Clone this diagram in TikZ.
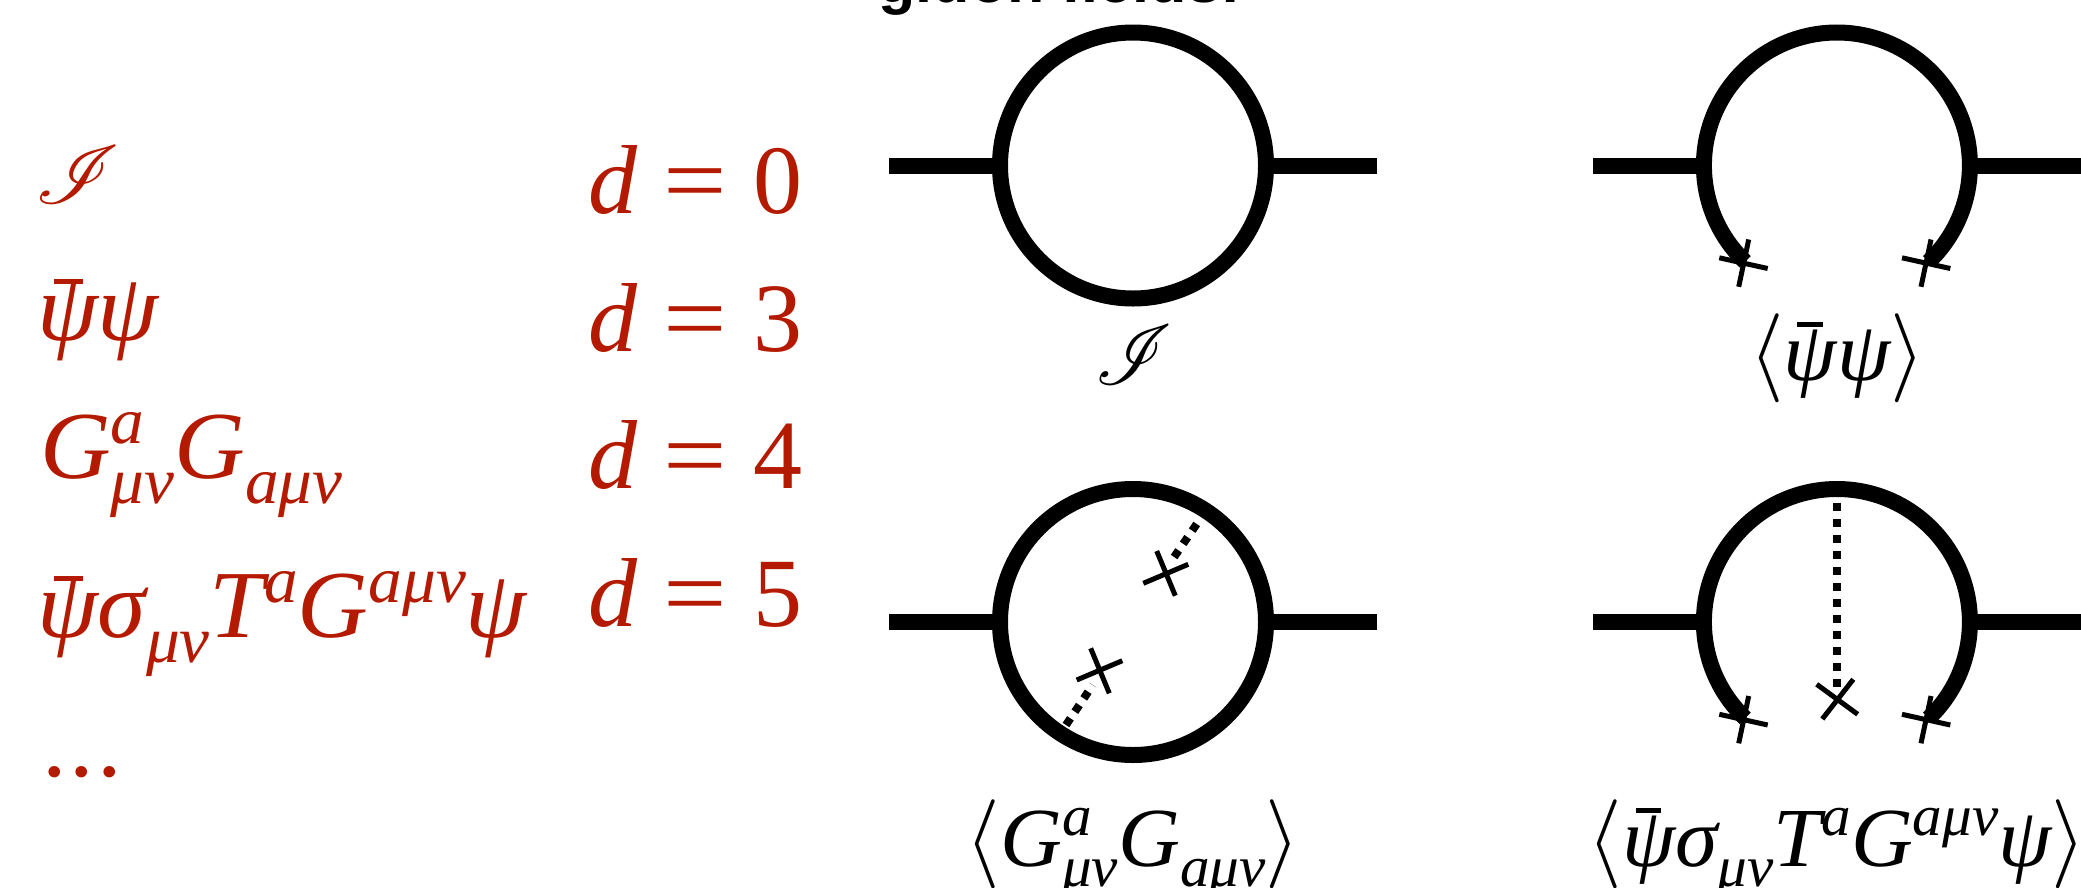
\documentclass[tikz,border=0pt]{standalone}
\usepackage{fix-cm}
\usepackage{fontspec}
\usepackage{mathrsfs}
\setmainfont{Liberation Serif}
\newfontfamily\headfont{Liberation Sans}
\definecolor{redtxt}{HTML}{B41A00}
\newcommand{\Bfont}{\fontsize{96}{110}\selectfont\itshape}
\newcommand{\Efont}{\fontsize{98}{110}\selectfont\itshape}
\newcommand{\Cfont}{\fontsize{84}{90}\selectfont\itshape}
\newcommand{\Sfont}{\fontsize{66}{70}\selectfont\itshape}
\newcommand{\Tfont}{\fontsize{58}{60}\selectfont\itshape}
\newcommand{\Wide}[1]{\scalebox{1.02}[1]{#1}}
\newcommand{\Sp}[1]{\raisebox{35pt}{\Sfont #1}}
\newcommand{\Sb}[1]{\raisebox{-25pt}{\Sfont #1}}
\newcommand{\SpSb}[2]{\rlap{\raisebox{35pt}{\Sfont #1}}\raisebox{-25pt}{\Sfont #2}}
\newcommand{\Cp}[1]{\raisebox{31pt}{\Tfont #1}}
\newcommand{\Cb}[1]{\raisebox{-20pt}{\Tfont #1}}
\newcommand{\CpCb}[2]{\rlap{\raisebox{31pt}{\Tfont #1}}\raisebox{-20pt}{\Tfont #2}}
\newcommand{\PsiBar}{\rlap{\hspace{17pt}\raisebox{56pt}{\rule{28pt}{5pt}}}ψ}
\newcommand{\CsiBar}{\rlap{\hspace{13pt}\raisebox{53pt}{\rule{25pt}{5pt}}}ψ}
\newcommand{\Eq}[1]{{\Efont d\hspace{26pt}\scalebox{1.15}[1]{\upshape =}\hspace{27pt}{\upshape #1}}}
\newcommand{\Ang}[1]{{\fontsize{89}{100}\selectfont$\langle$}\Wide{#1}{\fontsize{89}{100}\selectfont$\rangle$}}
\newcommand{\ScrA}{\scalebox{3.4}[3.3]{$\mathscr{I}$}}
\newcommand{\ScrB}{\scalebox{3.1}[3.4]{$\mathscr{I}$}}
\tikzset{
  lab/.style={inner sep=0pt,outer sep=0pt,anchor=base west,font=\Bfont,text=redtxt},
  blab/.style={inner sep=0pt,outer sep=0pt,anchor=base,font=\Cfont,text=black},
  heavy/.style={line width=16pt,black},
  dots/.style={line width=8pt,black,dash pattern=on 8pt off 8pt},
  crossarm/.style={line width=5pt,black}
}
\begin{document}
\begin{tikzpicture}[x=1pt,y=-1pt]
\useasboundingbox (0,0) rectangle (2081,887);
\clip (0,0) rectangle (2081,887);
% left column
\node[lab] (t1) at (35,203) {\ScrA};
\node[lab] (t2) at (37,340) {\Wide{\PsiBar ψ}};
\node[lab] (t3) at (40,478) {\Wide{G\SpSb{a}{μν}G\Sb{aμν}}};
\node[lab] (t4) at (37,637) {\Wide{\PsiBar σ\Sb{μν}T\Sp{a}G\Sp{aμν}ψ}};
\node[lab] (t5) at (42,776) {\Wide{\upshape .\hspace{3pt}.\hspace{3pt}.}};
\node[lab] (d0) at (588,213) {\Eq{0}};
\node[lab] (d3) at (588,351) {\Eq{3}};
\node[lab] (d4) at (588,488.5) {\Eq{4}};
\node[lab] (d5) at (588,626) {\Eq{5}};
% heading
\node[inner sep=0pt,anchor=base] (head) at (1060,2) {\fontsize{61}{70}\selectfont\headfont\bfseries gluon fields:};
% captions
\node[blab] (c1) at (1134,384) {\ScrB};
\node[blab] (c2) at (1837,380) {\Ang{\CsiBar ψ}};
\node[blab] (c3) at (1133,866) {\Ang{G\CpCb{a}{μν}G\Cb{aμν}}};
\node[blab] (c4) at (1837,866) {\Ang{\CsiBar σ\Cb{μν}T\Cp{a}G\Cp{aμν}ψ}};
% loop centres and ends
\coordinate (A) at (1133,165.5);
\coordinate (C) at (1133,622);
\coordinate (a1) at (889,165.5); \coordinate (a2) at (1000,165.5);
\coordinate (a3) at (1266,165.5); \coordinate (a4) at (1377,165.5);
\coordinate (b1) at (1593,165.5); \coordinate (b2) at (1704,165.5);
\coordinate (b3) at (1970,165.5); \coordinate (b4) at (2081,165.5);
\coordinate (e1) at (889,622); \coordinate (e2) at (1000,622);
\coordinate (e3) at (1266,622); \coordinate (e4) at (1377,622);
\coordinate (f1) at (1593,622); \coordinate (f2) at (1704,622);
\coordinate (f3) at (1970,622); \coordinate (f4) at (2081,622);
% loop 1
\draw[heavy] (A) circle[radius=133pt];
\draw[heavy] (a1) -- (a2);
\draw[heavy] (a3) -- (a4);
% loop 2
\draw[heavy] (1745.2,261.8) arc[start angle=226.4,end angle=-46.4,radius=133pt];
\draw[heavy] (b1) -- (b2);
\draw[heavy] (b3) -- (b4);
\draw[crossarm] (1719.3,257.8) -- (1767.7,268.5) (1748.7,239.5) -- (1738.7,286.8);
\draw[crossarm] (1902,257.8) -- (1950.3,268.5) (1931,239.5) -- (1921,286.8);
% loop 3
\draw[heavy] (C) circle[radius=133pt];
\draw[heavy] (e1) -- (e2);
\draw[heavy] (e3) -- (e4);
\draw[dots] (1196.7,524) -- (1170,563);
\draw[dots] (1066,725) -- (1092.7,685);
\draw[crossarm] (1143.3,583.3) -- (1188.3,564.3) (1156.7,551) -- (1175.3,595.7);
\draw[crossarm] (1076.7,680) -- (1122.3,660.7) (1090.7,648.3) -- (1109.3,693.3);
% loop 4
\draw[heavy] (1745.2,718.3) arc[start angle=226.4,end angle=-46.4,radius=133pt];
\draw[heavy] (f1) -- (f2);
\draw[heavy] (f3) -- (f4);
\draw[dots] (1837,503) -- (1837,688);
\draw[crossarm] (1816.7,684.3) -- (1857.7,714.3) (1853.3,679.3) -- (1822.3,719);
\draw[crossarm] (1719.3,714.3) -- (1767.7,725) (1748.7,696) -- (1738.7,743.3);
\draw[crossarm] (1902,714.3) -- (1950.3,725) (1931,696) -- (1921,743.3);
\end{tikzpicture}
\end{document}
